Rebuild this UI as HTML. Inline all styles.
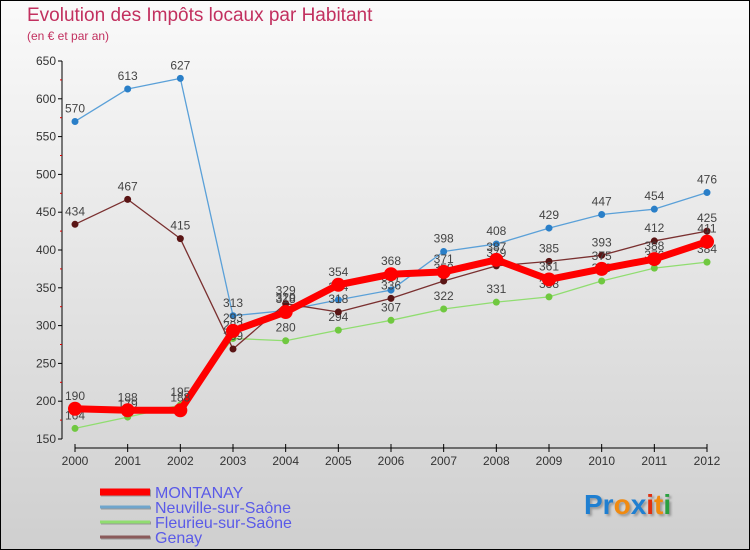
<!DOCTYPE html>
<html><head><meta charset="utf-8"><style>
body{margin:0}
#c{width:750px;height:550px;position:relative;overflow:hidden;background:linear-gradient(#fafafa,#cfcfcf);font-family:"Liberation Sans",sans-serif;box-sizing:border-box;border:1px solid #000}
.t{position:absolute;color:#c2305f}
</style></head><body>
<div id="c">
<div class="t" style="left:26px;top:4px;font-size:19px">Evolution des Impôts locaux par Habitant</div>
<div class="t" style="left:26px;top:28px;font-size:12px">(en € et par an)</div>
<svg id="s" width="750" height="550" style="position:absolute;left:-1px;top:-1px"></svg>
<div style="position:absolute;left:583px;top:488px;font-size:28px;font-weight:bold;text-shadow:2px 2px 2px #999"><span style="color:#1f7fd1">Pr</span><span style="color:#f08a10">o</span><span style="color:#1f7fd1">x</span><span style="color:#e03010">i</span><span style="color:#f08a10">t</span><span style="color:#2aa040">i</span></div>
</div>
<script>
const years=["2000","2001","2002","2003","2004","2005","2006","2007","2008","2009","2010","2011","2012"];
const yTicks=[150,200,250,300,350,400,450,500,550,600,650];
const montanay=[190,188,188,293,318,354,368,371,387,361,375,388,411];
const neuville=[570,613,627,313,320,334,347,398,408,429,447,454,476];
const fleurieu=[164,179,195,283,280,294,307,322,331,338,359,376,384];
const genay=[434,467,415,269,329,318,336,359,379,385,393,412,425];
const names=["MONTANAY","Neuville-sur-Saône","Fleurieu-sur-Saône","Genay"];
const s=document.getElementById('s');const NS="http://www.w3.org/2000/svg";
function X(i){return 75+i*(707-75)/12}
function Y(v){return 439-(v-150)*(439-61)/500}
function el(t,a,p){const e=document.createElementNS(NS,t);for(const k in a)e.setAttribute(k,a[k]);(p||s).appendChild(e);return e}
let ax=el('line',{x1:62,y1:61,x2:62,y2:439,stroke:'#000'});
let bx=el('line',{x1:75,y1:448,x2:707,y2:448,stroke:'#000'});
yTicks.forEach(v=>{el('line',{x1:58,x2:62,y1:Y(v),y2:Y(v),stroke:'#000'});
if(v<650)el('line',{x1:60,x2:62,y1:Y(v+25),y2:Y(v+25),stroke:'#d00'});
const t=el('text',{x:56,y:Y(v)+4,'text-anchor':'end','font-size':12,fill:'#333'});t.textContent=v;});
years.forEach((y,i)=>{el('line',{x1:X(i),x2:X(i),y1:444,y2:452,stroke:'#000'});
const t=el('text',{x:X(i),y:465,'text-anchor':'middle','font-size':12,fill:'#333'});t.textContent=y;});
function series(d,col,w,r,dot,name){const g=el('g',{});
el('polyline',{points:d.map((v,i)=>X(i)+','+Y(v)).join(' '),fill:'none',stroke:col,'stroke-width':w,'stroke-linejoin':'round'},g);
d.forEach((v,i)=>{const c=el('circle',{cx:X(i),cy:Y(v),r:r,fill:dot},g);
const t=el('text',{x:X(i),y:Y(v)-9,'text-anchor':'middle','font-size':12,fill:'#444'},g);t.textContent=v;});}
series(neuville,'#5aa0d8',1.3,3.5,'#2a7fc8','series-neuville');
series(fleurieu,'#90dd70',1.3,3.5,'#70c840','series-fleurieu');
series(genay,'#7a3030',1.3,3.5,'#5a1515','series-genay');
series(montanay,'#f00',7,7,'#f00','series-montanay');
const lc=['#f00','#6fa5cc','#90dd70','#8a5a5a'],lw=[7,3,3,3];
names.forEach((n,i)=>{const y=492+i*15;const g=el('g',{});
el('line',{x1:101,x2:151,y1:y+1,y2:y+1,stroke:'#999','stroke-width':lw[i]},g);
el('line',{x1:100,x2:150,y1:y,y2:y,stroke:lc[i],'stroke-width':lw[i]},g);
const t=el('text',{x:155,y:y+6,'font-size':16,fill:'#5a5ae8'},g);t.textContent=n;});
</script>
</body></html>
